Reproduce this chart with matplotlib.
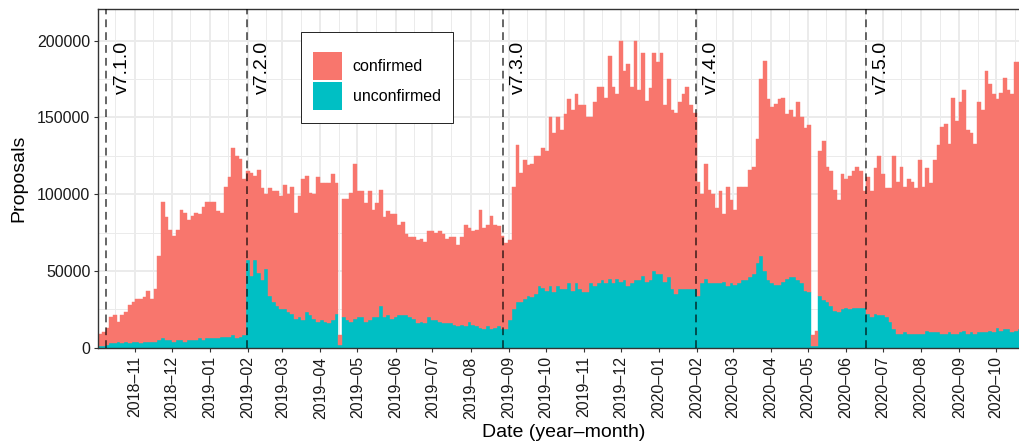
import numpy as np
import pandas as pd
import matplotlib
matplotlib.use("Agg")
import matplotlib.pyplot as plt
import matplotlib.dates as mdates
from matplotlib.patches import Patch, Rectangle
from matplotlib.ticker import MultipleLocator

plt.rcParams["font.family"] = ["Liberation Sans", "DejaVu Sans"]

# proposals per 3-day bin (thousands), first bin starts 2018-10-03
start_date = "2018-10-03"
bin_days = 3
total_k = [
    9, 10, 13, 20, 21, 17, 21, 23, 28, 30, 32, 32, 33, 37, 32, 38, 60, 95, 85, 77,
    73, 77, 90, 88, 83, 86, 88, 87, 92, 95, 95, 95, 89, 88, 105, 111,
    130, 125, 123, 110, 115, 114, 112, 116, 104, 100, 104, 102, 102, 99, 106, 100, 105, 88, 99, 110,
    112, 101, 100, 111, 107, 107, 107, 113, 107, 8, 97, 97, 101, 120, 102, 102,
    94, 102, 90, 94, 103, 85, 89, 87, 87, 80, 82, 74, 72, 72, 70, 71, 69, 76, 76, 75,
    76, 74, 71, 72, 72, 67, 72, 80, 78, 76, 77, 90, 78, 80, 86, 80,
    79, 73, 68, 70, 105, 132, 114, 122, 119, 120, 125, 125, 130, 128, 150, 140, 150, 142, 152, 162,
    155, 165, 158, 158, 150, 150, 160, 170, 170, 163, 190, 170, 165, 200,
    180, 185, 170, 200, 168, 192, 161, 169, 192, 186, 192, 158, 175, 155, 153, 160, 165, 170, 158, 153,
    108, 100, 120, 103, 100, 91, 102, 87, 105, 96, 90, 105, 105, 105, 116, 118,
    136, 175, 187, 162, 157, 159, 162, 163, 152, 155, 150, 160, 150, 143, 145, 8, 11, 128, 135, 118,
    115, 103, 96, 113, 110, 112, 115, 118, 115, 102, 111, 102, 117, 125, 113, 104,
    104, 125, 108, 118, 105, 110, 108, 104, 122, 105, 117, 107, 122, 132, 144, 146, 133, 163, 148, 160,
    168, 142, 140, 133, 160, 155, 180, 172, 165, 162, 166, 176, 168, 165, 186, 186,
]
unconfirmed_k = [
    1, 1, 2, 3, 3, 4, 3, 4, 3, 4, 4, 3, 4, 4, 4, 4, 5, 6, 5, 5,
    4, 5, 5, 4, 5, 5, 5, 6, 5, 6, 6, 6, 6, 7, 7, 7, 8, 6, 7, 8,
    57, 47, 57, 49, 44, 51, 34, 30, 27, 25, 25, 23, 22, 19, 20, 18, 23, 21, 19, 17,
    18, 17, 16, 18, 22, 2, 20, 18, 17, 19, 20, 20,
    17, 18, 20, 20, 27, 20, 21, 19, 20, 21, 21, 21, 20, 19, 16, 17, 16, 20, 18, 18,
    17, 16, 16, 16, 15, 14, 15, 14, 17, 15, 14, 13, 12, 14, 12, 13,
    14, 12, 12, 18, 25, 30, 30, 32, 34, 33, 35, 40, 39, 37, 40, 36, 40, 38, 38, 42,
    37, 42, 38, 36, 36, 42, 40, 42, 44, 42, 45, 42, 45, 43,
    44, 40, 42, 44, 44, 47, 43, 44, 50, 48, 48, 43, 46, 38, 35, 38, 38, 38, 38, 38,
    34, 42, 45, 42, 42, 42, 42, 43, 40, 42, 41, 42, 44, 44, 46, 48,
    55, 60, 50, 44, 42, 41, 41, 43, 45, 46, 46, 44, 42, 37, 36, 1, 1, 34, 31, 30,
    27, 24, 23, 25, 26, 25, 26, 26, 26, 26, 22, 20, 22, 21, 21, 20,
    17, 12, 9, 9, 10, 9, 9, 9, 9, 9, 11, 10, 10, 10, 9, 9, 10, 9, 9, 10,
    11, 9, 10, 9, 10, 10, 10, 11, 10, 13, 11, 12, 12, 10, 11, 12,
]
versions = ["v7.1.0", "v7.2.0", "v7.3.0", "v7.4.0", "v7.5.0"]
version_dates = ["2018-10-09", "2019-01-31", "2019-08-27", "2020-01-31", "2020-06-17"]
last_date = "2020-10-19"

c_conf = "#F8766D"
c_unconf = "#00BFC4"

total = np.array(total_k) * 1000
unconfirmed = np.array(unconfirmed_k) * 1000
confirmed = total - unconfirmed
dates = pd.date_range(start_date, periods=len(total), freq=f"{bin_days}D")
x = mdates.date2num(dates) - 0.5

W, H = 1019, 445
fig = plt.figure(figsize=(W / 100, H / 100), dpi=100)
left, right, top, bottom = 98.3, 1019, 9.3, 347.7
ax = fig.add_axes([left / W, 1 - bottom / H, (right - left) / W, (bottom - top) / H])

ax.bar(x, unconfirmed, width=bin_days, align="edge", color=c_unconf,
       edgecolor=c_unconf, linewidth=0.3, zorder=2)
ax.bar(x, confirmed, bottom=unconfirmed, width=bin_days, align="edge", color=c_conf,
       edgecolor=c_conf, linewidth=0.3, zorder=2)

for name, d in zip(versions, version_dates):
    xd = mdates.date2num(pd.Timestamp(d))
    ax.axvline(xd, color="black", alpha=0.6, lw=1.4, linestyle=(0, (4, 2.6)), zorder=3)
    ax.text(xd + 13, 200000, name, rotation=90, ha="center", va="top",
            fontsize=14, color="black", zorder=4)

ax.set_xlim(mdates.date2num(pd.Timestamp(start_date)) - 0.5,
            mdates.date2num(pd.Timestamp(last_date)) + 0.5)
ax.set_ylim(0, 220500)

ax.xaxis.set_major_locator(mdates.MonthLocator(bymonthday=1))
ax.xaxis.set_minor_locator(mdates.MonthLocator(bymonthday=16))
ax.xaxis.set_major_formatter(mdates.DateFormatter("%Y\u2013%m"))
ax.yaxis.set_major_locator(MultipleLocator(50000))
ax.yaxis.set_minor_locator(MultipleLocator(25000))
ax.yaxis.set_major_formatter(matplotlib.ticker.FuncFormatter(lambda v, p: f"{int(v)}"))

ax.set_axisbelow(True)
ax.grid(which="major", color="#EBEBEB", lw=1.4, zorder=0)
ax.grid(which="minor", color="#EBEBEB", lw=0.7, zorder=0)

ax.tick_params(which="major", length=3.8 * 0.72, width=0.8, color="#333333",
               labelsize=11.5, labelcolor="#1a1a1a")
ax.tick_params(which="minor", length=0)
ax.tick_params(axis="x", pad=3.5, labelrotation=90)
ax.tick_params(axis="y", pad=2.9)

for s in ["top", "left", "bottom"]:
    ax.spines[s].set_color("#333333")
    ax.spines[s].set_linewidth(1.0)
ax.spines["right"].set_visible(False)

fig.text(19 / W, 1 - 178.5 / H, "Proposals", rotation=90, ha="center", va="center", fontsize=14)
fig.text(564 / W, 1 - 432.5 / H, "Date (year\u2013month)", ha="center", va="center", fontsize=14)

# legend box
aw, ah = right - left, bottom - top
ax.add_patch(Rectangle(((301.3 - left) / aw, (bottom - 123) / ah),
                       (452.7 - 301.3) / aw, (123 - 31.7) / ah,
                       transform=ax.transAxes, facecolor="white", edgecolor="black",
                       lw=0.6, zorder=5))
handles = [Patch(facecolor=c_conf, edgecolor="none", label="confirmed"),
           Patch(facecolor=c_unconf, edgecolor="none", label="unconfirmed")]
leg = ax.legend(handles=handles, loc="upper left",
                bbox_to_anchor=((313 - left) / aw, (bottom - 51.7) / ah),
                frameon=False, borderpad=0, borderaxespad=0, fontsize=11.5,
                handlelength=1.8, handleheight=2.32, labelspacing=0.17,
                handletextpad=0.69)
leg.set_zorder(6)

fig.savefig("out.png", dpi=100)
